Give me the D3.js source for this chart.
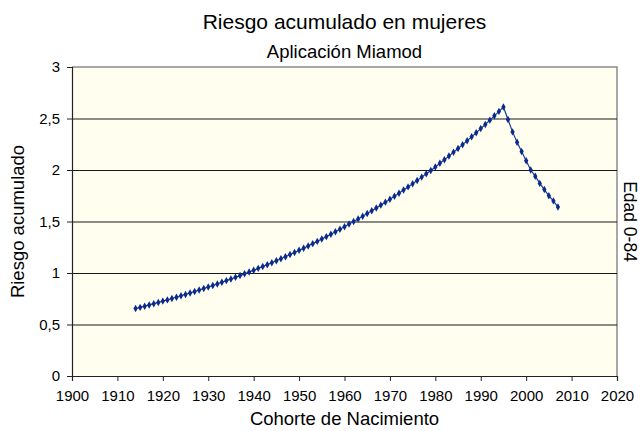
<!DOCTYPE html>
<html><head><meta charset="utf-8">
<script src="https://cdn.jsdelivr.net/npm/d3@7"></script>
<style>body{margin:0;background:#fff;} text{font-family:"Liberation Sans",Arial,sans-serif;fill:#000;}</style>
</head><body>
<svg id="c" width="643" height="431"></svg>
<script>
const years = [1914,1915,1916,1917,1918,1919,1920,1921,1922,1923,1924,1925,1926,1927,1928,1929,1930,1931,1932,1933,1934,1935,1936,1937,1938,1939,1940,1941,1942,1943,1944,1945,1946,1947,1948,1949,1950,1951,1952,1953,1954,1955,1956,1957,1958,1959,1960,1961,1962,1963,1964,1965,1966,1967,1968,1969,1970,1971,1972,1973,1974,1975,1976,1977,1978,1979,1980,1981,1982,1983,1984,1985,1986,1987,1988,1989,1990,1991,1992,1993,1994,1995,1996,1997,1998,1999,2000,2001,2002,2003,2004,2005,2006,2007];
const riesgo = [0.655,0.666,0.678,0.690,0.702,0.714,0.727,0.739,0.752,0.765,0.779,0.792,0.806,0.820,0.835,0.849,0.864,0.879,0.894,0.910,0.926,0.942,0.958,0.975,0.992,1.009,1.027,1.045,1.063,1.081,1.100,1.119,1.139,1.158,1.179,1.199,1.220,1.241,1.263,1.285,1.307,1.330,1.353,1.376,1.400,1.425,1.449,1.475,1.500,1.525,1.551,1.578,1.604,1.632,1.659,1.688,1.716,1.745,1.775,1.805,1.836,1.867,1.898,1.931,1.963,1.996,2.030,2.065,2.100,2.135,2.172,2.208,2.246,2.284,2.322,2.362,2.402,2.442,2.484,2.526,2.569,2.612,2.49,2.37,2.27,2.18,2.09,2.00,1.94,1.87,1.81,1.75,1.70,1.64];
const xTicks = [1900,1910,1920,1930,1940,1950,1960,1970,1980,1990,2000,2010,2020];
const yTicks = [0,0.5,1,1.5,2,2.5,3];
const gridVals = [0.5,1,1.5,2,2.5];

const svg = d3.select("#c");
const L=72, R=617, T=67, B=376;
const x = d3.scaleLinear().domain([1900,2020]).range([L,R]);
const y = d3.scaleLinear().domain([0,3]).range([B,T]);

svg.append("rect").attr("x",L).attr("y",T).attr("width",R-L).attr("height",B-T).attr("fill","#FFFEEF");
svg.append("path").attr("d",`M${L},${T}H${R}V${B}`).attr("fill","none").attr("stroke","#8a8a8a").attr("stroke-width",1.5);
svg.selectAll(".grid").data(gridVals).enter().append("line")
  .attr("x1",L).attr("x2",R).attr("y1",d=>y(d)+0.5).attr("y2",d=>y(d)+0.5)
  .attr("stroke","#1a1a1a").attr("stroke-width",1.2);

const fmt = d => d3.format("")(d).replace(".",",");
const ya = svg.append("g").attr("transform",`translate(${L},0)`)
  .call(d3.axisLeft(y).tickValues(yTicks).tickSize(5).tickFormat(fmt));
ya.select(".domain").attr("stroke","#222").attr("stroke-width",1.2);
ya.selectAll(".tick line").attr("stroke","#222");
ya.selectAll("text").attr("font-size",15).attr("dx",-4);

const xa = svg.append("g").attr("transform",`translate(0,${B})`)
  .call(d3.axisBottom(x).tickValues(xTicks).tickSize(5).tickFormat(d3.format("d")));
xa.select(".domain").attr("stroke","#222").attr("stroke-width",1.2);
xa.selectAll(".tick line").attr("stroke","#222");
xa.selectAll("text").attr("font-size",15).attr("dy","1.15em");
svg.selectAll(".tick text").attr("font-family","Liberation Sans, Arial, sans-serif").attr("fill","#000");

const data = years.map((d,i)=>({yr:d,v:riesgo[i]}));
const line = d3.line().x(d=>x(d.yr)).y(d=>y(d.v));
svg.append("path").datum(data).attr("d",line).attr("fill","none").attr("stroke","#1b3a9a").attr("stroke-width",1.2);
const sym = d3.symbol().type(d3.symbolDiamond).size(16);
svg.selectAll(".m").data(data).enter().append("path")
  .attr("transform",d=>`translate(${x(d.yr)},${y(d.v)})`).attr("d",sym).attr("fill","#0a2a8c");

svg.append("text").attr("x",(L+R)/2).attr("y",29).attr("text-anchor","middle").attr("font-size",21).text("Riesgo acumulado en mujeres");
svg.append("text").attr("x",(L+R)/2).attr("y",58).attr("text-anchor","middle").attr("font-size",18.5).text("Aplicación Miamod");
svg.append("text").attr("transform",`translate(24,${(T+B)/2}) rotate(-90)`).attr("text-anchor","middle").attr("font-size",18.5).text("Riesgo acumulado");
svg.append("text").attr("x",(L+R)/2).attr("y",425).attr("text-anchor","middle").attr("font-size",18.5).text("Cohorte de Nacimiento");
svg.append("text").attr("transform",`translate(624,${(T+B)/2}) rotate(90)`).attr("text-anchor","middle").attr("font-size",17.5).text("Edad 0-84");
</script>
</body></html>
